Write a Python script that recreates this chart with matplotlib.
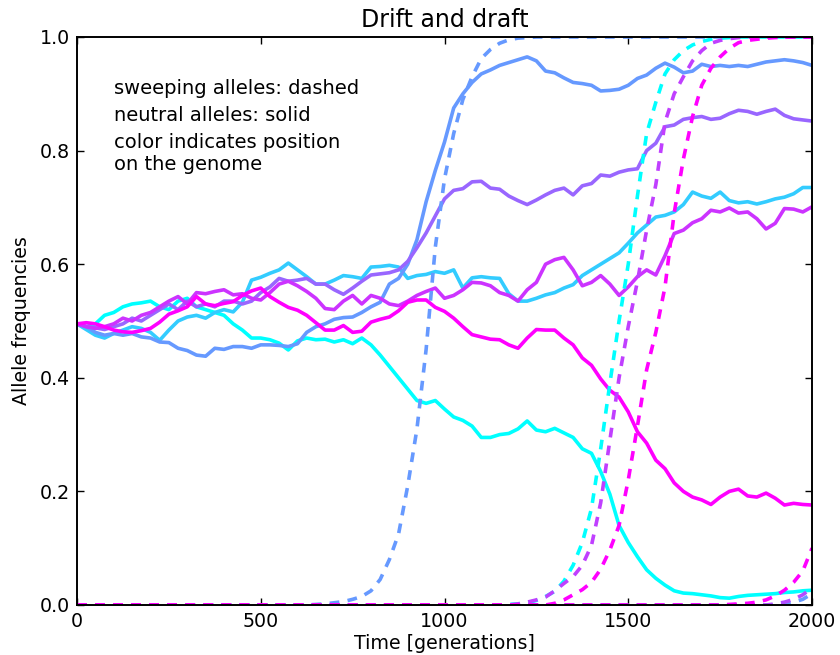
import numpy as np
import matplotlib
matplotlib.use("Agg")
import matplotlib.pyplot as plt
from matplotlib import cm

plt.rcParams['font.family'] = ['DejaVu Sans']
plt.rcParams['lines.scale_dashes'] = False

generations = np.arange(0, 2001, 25)

# neutral alleles (solid)
neutral_cyan = [0.495, 0.49, 0.495, 0.51, 0.515, 0.525, 0.53, 0.532, 0.535, 0.525, 0.52, 0.535, 0.54, 0.525, 0.52, 0.515, 0.51, 0.495, 0.484, 0.47, 0.47, 0.467, 0.461, 0.449, 0.465, 0.47, 0.467, 0.468, 0.463, 0.467, 0.46, 0.47, 0.458, 0.44, 0.42, 0.40, 0.38, 0.36, 0.355, 0.36, 0.345, 0.331, 0.325, 0.315, 0.295, 0.295, 0.30, 0.302, 0.31, 0.324, 0.308, 0.305, 0.311, 0.303, 0.295, 0.275, 0.267, 0.235, 0.195, 0.14, 0.11, 0.085, 0.062, 0.047, 0.035, 0.025, 0.021, 0.02, 0.018, 0.016, 0.013, 0.012, 0.015, 0.017, 0.018, 0.019, 0.02, 0.022, 0.023, 0.025, 0.026]
neutral_sky = [0.495, 0.485, 0.475, 0.47, 0.478, 0.484, 0.49, 0.487, 0.48, 0.466, 0.484, 0.50, 0.507, 0.51, 0.505, 0.515, 0.52, 0.516, 0.533, 0.572, 0.577, 0.584, 0.59, 0.602, 0.59, 0.578, 0.565, 0.565, 0.572, 0.58, 0.578, 0.575, 0.595, 0.596, 0.598, 0.595, 0.575, 0.58, 0.582, 0.587, 0.584, 0.59, 0.558, 0.576, 0.578, 0.576, 0.575, 0.548, 0.535, 0.535, 0.54, 0.546, 0.55, 0.558, 0.564, 0.58, 0.59, 0.60, 0.61, 0.62, 0.637, 0.655, 0.669, 0.683, 0.686, 0.692, 0.705, 0.727, 0.72, 0.716, 0.727, 0.712, 0.708, 0.71, 0.706, 0.71, 0.715, 0.718, 0.724, 0.735, 0.735]
neutral_blue = [0.495, 0.49, 0.48, 0.475, 0.478, 0.475, 0.478, 0.472, 0.47, 0.463, 0.462, 0.452, 0.448, 0.44, 0.438, 0.452, 0.45, 0.455, 0.455, 0.452, 0.458, 0.458, 0.457, 0.455, 0.46, 0.48, 0.49, 0.495, 0.503, 0.506, 0.507, 0.515, 0.525, 0.533, 0.565, 0.575, 0.60, 0.643, 0.71, 0.765, 0.815, 0.875, 0.90, 0.92, 0.935, 0.942, 0.95, 0.955, 0.96, 0.965, 0.958, 0.94, 0.937, 0.928, 0.92, 0.918, 0.915, 0.905, 0.906, 0.908, 0.915, 0.927, 0.933, 0.945, 0.954, 0.947, 0.937, 0.94, 0.952, 0.948, 0.95, 0.948, 0.95, 0.948, 0.952, 0.956, 0.958, 0.96, 0.958, 0.955, 0.95]
neutral_purple = [0.495, 0.49, 0.488, 0.485, 0.49, 0.495, 0.505, 0.50, 0.51, 0.52, 0.53, 0.52, 0.535, 0.525, 0.53, 0.525, 0.535, 0.535, 0.53, 0.535, 0.55, 0.56, 0.575, 0.57, 0.572, 0.575, 0.565, 0.565, 0.555, 0.547, 0.558, 0.57, 0.581, 0.583, 0.585, 0.59, 0.605, 0.629, 0.655, 0.685, 0.715, 0.73, 0.733, 0.745, 0.746, 0.734, 0.732, 0.72, 0.712, 0.705, 0.713, 0.722, 0.73, 0.734, 0.722, 0.738, 0.742, 0.757, 0.755, 0.762, 0.766, 0.768, 0.80, 0.813, 0.842, 0.845, 0.855, 0.858, 0.86, 0.855, 0.857, 0.865, 0.871, 0.869, 0.864, 0.869, 0.873, 0.862, 0.856, 0.854, 0.852]
neutral_violet = [0.495, 0.49, 0.487, 0.49, 0.495, 0.505, 0.50, 0.51, 0.515, 0.525, 0.535, 0.543, 0.53, 0.55, 0.548, 0.552, 0.555, 0.546, 0.548, 0.54, 0.537, 0.55, 0.565, 0.57, 0.562, 0.552, 0.54, 0.522, 0.52, 0.535, 0.545, 0.53, 0.545, 0.54, 0.53, 0.527, 0.535, 0.545, 0.552, 0.558, 0.54, 0.545, 0.555, 0.568, 0.567, 0.562, 0.55, 0.545, 0.535, 0.555, 0.568, 0.60, 0.608, 0.612, 0.59, 0.562, 0.568, 0.58, 0.565, 0.545, 0.56, 0.578, 0.59, 0.581, 0.615, 0.654, 0.66, 0.673, 0.68, 0.695, 0.692, 0.699, 0.69, 0.692, 0.68, 0.662, 0.672, 0.698, 0.697, 0.692, 0.701]
neutral_magenta = [0.495, 0.497, 0.495, 0.49, 0.484, 0.481, 0.48, 0.483, 0.487, 0.498, 0.512, 0.518, 0.525, 0.543, 0.53, 0.527, 0.531, 0.534, 0.545, 0.553, 0.558, 0.543, 0.533, 0.524, 0.519, 0.51, 0.497, 0.484, 0.484, 0.492, 0.48, 0.482, 0.498, 0.503, 0.507, 0.518, 0.533, 0.537, 0.537, 0.524, 0.517, 0.505, 0.49, 0.476, 0.472, 0.468, 0.467, 0.458, 0.452, 0.47, 0.485, 0.484, 0.484, 0.47, 0.458, 0.435, 0.422, 0.398, 0.378, 0.366, 0.34, 0.305, 0.285, 0.255, 0.24, 0.215, 0.20, 0.19, 0.185, 0.177, 0.19, 0.20, 0.204, 0.192, 0.19, 0.197, 0.188, 0.176, 0.179, 0.177, 0.176]

# sweeping alleles (dashed)
sweep_blue = [0.0] * 26 + [0.001, 0.002, 0.004, 0.006, 0.01, 0.015, 0.025, 0.045, 0.08, 0.125, 0.21, 0.31, 0.45, 0.63, 0.75, 0.83, 0.89, 0.93, 0.962, 0.978, 0.989, 0.995, 0.998, 0.999] + [1.0] * 31
sweep_cyan = [0.0] * 47 + [0.001, 0.002, 0.004, 0.008, 0.015, 0.024, 0.042, 0.07, 0.11, 0.17, 0.275, 0.39, 0.50, 0.60, 0.72, 0.83, 0.885, 0.935, 0.96, 0.976, 0.986, 0.992, 0.996, 0.998, 0.999] + [1.0] * 9
sweep_purple = [0.0] * 48 + [0.002, 0.005, 0.009, 0.014, 0.025, 0.038, 0.05, 0.07, 0.105, 0.18, 0.29, 0.40, 0.49, 0.57, 0.66, 0.74, 0.85, 0.90, 0.93, 0.958, 0.976, 0.989, 0.994, 0.997, 0.999] + [1.0] * 8
sweep_magenta = [0.0] * 52 + [0.003, 0.009, 0.018, 0.027, 0.04, 0.063, 0.097, 0.14, 0.22, 0.315, 0.414, 0.48, 0.56, 0.69, 0.785, 0.86, 0.915, 0.945, 0.965, 0.98, 0.99, 0.994, 0.996, 0.998, 0.999] + [1.0] * 4
sweep_magenta_late = [0.0] * 71 + [0.001, 0.002, 0.003, 0.005, 0.009, 0.016, 0.026, 0.04, 0.06, 0.1]
sweep_purple_late = [0.0] * 76 + [0.002, 0.005, 0.01, 0.018, 0.03]
sweep_blue_late = [0.0] * 77 + [0.002, 0.005, 0.01, 0.02]

neutral_series = [neutral_cyan, neutral_sky, neutral_blue, neutral_purple, neutral_violet, neutral_magenta]
neutral_pos = [0.0, 0.2, 0.4, 0.6, 0.8, 1.0]
sweep_series = [sweep_blue_late, sweep_purple_late, sweep_blue, sweep_cyan, sweep_purple, sweep_magenta, sweep_magenta_late]
sweep_pos = [0.4, 0.7, 0.4, 0.0, 0.75, 1.0, 1.0]

fig = plt.figure(figsize=(8.4, 6.55), dpi=100)
ax = fig.add_axes([77/840, 50/655, 735/840, 568/655])

for vals, p in zip(neutral_series, neutral_pos):
    ax.plot(generations, vals, color=cm.cool(p), lw=2.6, solid_joinstyle='round')
for vals, p in zip(sweep_series, sweep_pos):
    line, = ax.plot(generations, vals, color=cm.cool(p), lw=2.6, linestyle='--')
    line.set_dashes((7, 6))

ax.set_xlim(0, 2000)
ax.set_ylim(0, 1)
ax.set_xticks([0, 500, 1000, 1500, 2000])
ax.set_yticks([0.0, 0.2, 0.4, 0.6, 0.8, 1.0])
ax.set_yticklabels(['0.0', '0.2', '0.4', '0.6', '0.8', '1.0'])
ax.tick_params(direction='in', top=True, right=True, length=5, width=1, labelsize=13.7, pad=5)
for s in ax.spines.values():
    s.set_linewidth(1.4)

ax.set_title('Drift and draft', fontsize=17, pad=7)
ax.set_xlabel('Time [generations]', fontsize=13.7, labelpad=2)
ax.set_ylabel('Allele frequencies', fontsize=13.7, labelpad=6)

ax.text(100, 0.90, 'sweeping alleles: dashed', fontsize=14)
ax.text(100, 0.852, 'neutral alleles: solid', fontsize=14)
ax.text(100, 0.805, 'color indicates position', fontsize=14)
ax.text(100, 0.765, 'on the genome', fontsize=14)

fig.savefig('out.png', dpi=100)
